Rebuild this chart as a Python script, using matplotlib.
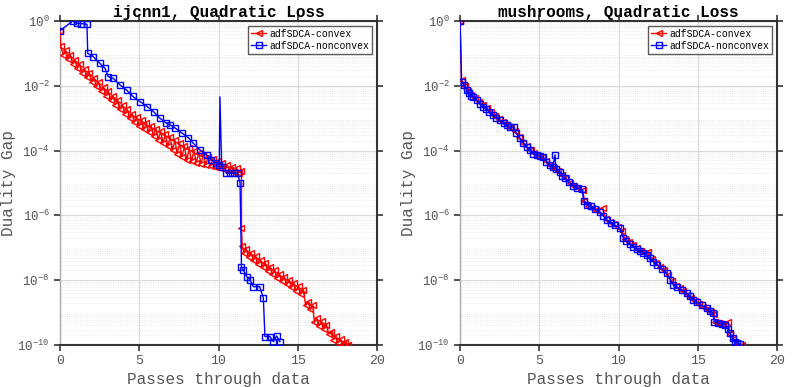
import numpy as np
import matplotlib
matplotlib.use("Agg")
import matplotlib.pyplot as plt
from matplotlib.ticker import FixedLocator, FuncFormatter, NullFormatter

# ---- data (x = passes through data, y = log10 duality gap) ----
ijcnn_convex_x = [0.00, 0.05, 0.20, 0.35, 0.50, 0.65, 0.80, 0.95, 1.10, 1.25, 1.40, 1.55, 1.70,
                  1.85, 2.00, 2.15, 2.30, 2.45, 2.60, 2.75, 2.90, 3.05, 3.20, 3.35, 3.50, 3.65,
                  3.80, 3.95, 4.10, 4.25, 4.40, 4.55, 4.70, 4.85, 5.00, 5.15, 5.30, 5.45, 5.60,
                  5.75, 5.90, 6.05, 6.20, 6.35, 6.50, 6.65, 6.80, 6.95, 7.10, 7.25, 7.40, 7.55,
                  7.70, 7.85, 8.00, 8.15, 8.30, 8.45, 8.60, 8.75, 8.90, 9.05, 9.20, 9.35, 9.50,
                  9.65, 9.80, 9.95, 10.10, 10.25, 10.40, 10.55, 10.70, 10.85, 11.00, 11.15,
                  11.30, 11.45, 11.45, 11.50, 11.60, 11.75, 11.90, 12.05, 12.20, 12.35, 12.50,
                  12.65, 12.80, 12.95, 13.10, 13.25, 13.40, 13.55, 13.70, 13.85, 14.00, 14.15,
                  14.30, 14.45, 14.60, 14.75, 14.90, 15.05, 15.20, 15.35, 15.50, 15.65, 15.80,
                  15.95, 16.05, 16.20, 16.35, 16.50, 16.65, 16.80, 16.95, 17.10, 17.25, 17.40,
                  17.55, 17.70, 17.85, 18.00, 18.20]
ijcnn_convex_y = [-0.30, -0.77, -1.04, -0.91, -1.18, -1.05, -1.32, -1.19, -1.46, -1.33, -1.60,
                  -1.47, -1.74, -1.61, -1.88, -1.75, -2.02, -1.89, -2.16, -2.03, -2.30, -2.17,
                  -2.44, -2.31, -2.58, -2.45, -2.72, -2.59, -2.86, -2.73, -3.00, -2.87, -3.12,
                  -2.96, -3.23, -3.05, -3.34, -3.14, -3.44, -3.23, -3.55, -3.32, -3.66, -3.41,
                  -3.76, -3.50, -3.87, -3.59, -3.98, -3.68, -4.09, -3.77, -4.19, -3.86, -4.30,
                  -3.93, -4.33, -4.00, -4.37, -4.06, -4.40, -4.13, -4.43, -4.19, -4.46, -4.26,
                  -4.50, -4.32, -4.53, -4.39, -4.57, -4.45, -4.61, -4.50, -4.65, -4.55, -4.68,
                  -4.62, -6.40, -6.95, -7.17, -7.04, -7.28, -7.15, -7.39, -7.26, -7.49, -7.37,
                  -7.60, -7.47, -7.71, -7.58, -7.82, -7.69, -7.92, -7.80, -8.03, -7.90, -8.13,
                  -7.99, -8.22, -8.09, -8.32, -8.18, -8.42, -8.30, -8.78, -8.66, -8.90, -8.78,
                  -9.30, -9.17, -9.40, -9.27, -9.50, -9.37, -9.65, -9.59, -9.84, -9.72, -9.93,
                  -9.81, -9.98, -9.90, -10.00]

ijcnn_nonconvex_x = [0.00, 0.80, 1.05, 1.30, 1.70, 1.75, 2.10, 2.50, 2.84, 3.05, 3.36, 3.80,
                     4.20, 4.60, 5.05, 5.50, 5.90, 6.30, 6.70, 6.94, 7.26, 7.70, 8.10, 8.40,
                     8.83, 9.25, 9.55, 9.87, 10.05, 10.09, 10.20, 10.50, 10.75, 11.00, 11.20,
                     11.36, 11.45, 11.57, 11.78, 11.99, 12.20, 12.60, 12.83, 12.93, 13.25,
                     13.46, 13.67, 13.88]
ijcnn_nonconvex_y = [-0.30, 0.00, -0.07, -0.08, -0.10, -1.00, -1.10, -1.30, -1.46, -1.72,
                     -1.77, -1.98, -2.13, -2.33, -2.49, -2.64, -2.80, -3.00, -3.15, -3.20,
                     -3.30, -3.46, -3.60, -3.77, -3.98, -4.13, -4.29, -4.39, -4.45, -2.34,
                     -4.50, -4.70, -4.70, -4.70, -4.70, -4.99, -7.60, -7.69, -7.89, -7.99,
                     -8.20, -8.20, -8.55, -9.74, -9.74, -9.90, -9.72, -9.90]

mush_nonconvex_x = [0.00, 0.10, 0.25, 0.42, 0.55, 0.70, 0.85, 1.05, 1.25, 1.47, 1.65, 1.85,
                    2.10, 2.30, 2.52, 2.75, 2.94, 3.15, 3.40, 3.55, 3.79, 4.00, 4.20, 4.40,
                    4.63, 4.85, 5.05, 5.26, 5.45, 5.68, 5.85, 6.00, 6.05, 6.31, 6.45, 6.60,
                    6.85, 7.15, 7.40, 7.70, 7.80, 8.00, 8.25, 8.50, 8.83, 9.05, 9.25, 9.50,
                    9.75, 10.10, 10.30, 10.50, 10.70, 10.93, 11.15, 11.35, 11.55, 11.78, 12.00,
                    12.20, 12.45, 12.75, 13.04, 13.25, 13.46, 13.70, 14.00, 14.30, 14.50, 14.70,
                    14.95, 15.25, 15.56, 15.80, 15.98, 16.05, 16.30, 16.50, 16.72, 16.90, 17.04,
                    17.20, 17.35, 17.50, 17.67]
mush_nonconvex_y = [0.00, -1.88, -1.97, -2.13, -2.22, -2.30, -2.36, -2.44, -2.55, -2.64, -2.72,
                    -2.80, -2.90, -2.98, -3.06, -3.14, -3.21, -3.28, -3.27, -3.45, -3.62, -3.76,
                    -3.88, -3.98, -4.09, -4.14, -4.17, -4.21, -4.35, -4.44, -4.50, -4.13, -4.58,
                    -4.65, -4.78, -4.85, -4.98, -5.10, -5.15, -5.20, -5.55, -5.68, -5.72, -5.80,
                    -5.89, -6.02, -6.14, -6.22, -6.30, -6.40, -6.70, -6.78, -6.88, -6.97, -7.05,
                    -7.10, -7.15, -7.22, -7.33, -7.43, -7.53, -7.65, -7.79, -7.98, -8.15, -8.22,
                    -8.30, -8.40, -8.50, -8.60, -8.68, -8.78, -8.87, -8.95, -9.02, -9.28, -9.32,
                    -9.35, -9.38, -9.50, -9.64, -9.78, -9.90, -9.95, -9.98]

mush_convex_x = [0.00, 0.10, 0.30, 0.50, 0.70, 0.95, 1.20, 1.45, 1.70, 1.95, 2.20, 2.45, 2.70,
                 2.95, 3.20, 3.45, 3.70, 3.95, 4.20, 4.45, 4.70, 4.95, 5.20, 5.45, 5.70, 5.95,
                 6.20, 6.45, 6.70, 6.95, 7.20, 7.45, 7.75, 7.85, 8.10, 8.35, 8.60, 9.00, 9.20,
                 9.45, 9.70, 9.95, 10.20, 10.40, 10.65, 10.90, 11.15, 11.40, 11.65, 11.87, 12.10,
                 12.35, 12.60, 12.85, 13.10, 13.35, 13.60, 13.85, 14.10, 14.35, 14.60, 14.85,
                 15.10, 15.35, 15.60, 15.85, 16.00, 16.10, 16.35, 16.60, 16.90, 17.05, 17.25,
                 17.45, 17.77]
mush_convex_y = [0.00, -1.82, -2.00, -2.15, -2.27, -2.38, -2.50, -2.60, -2.70, -2.80, -2.92,
                 -3.02, -3.12, -3.20, -3.30, -3.40, -3.57, -3.75, -3.87, -3.97, -4.08, -4.16,
                 -4.20, -4.33, -4.44, -4.54, -4.64, -4.76, -4.86, -5.00, -5.10, -5.16, -5.22,
                 -5.55, -5.70, -5.76, -5.82, -5.78, -6.12, -6.20, -6.28, -6.36, -6.48, -6.72,
                 -6.82, -6.92, -7.02, -7.09, -7.15, -7.12, -7.36, -7.46, -7.58, -7.70, -7.84,
                 -8.02, -8.18, -8.25, -8.33, -8.45, -8.55, -8.64, -8.72, -8.82, -8.90, -8.98,
                 -9.05, -9.28, -9.33, -9.36, -9.28, -9.66, -9.82, -9.93, -10.00]

panels = [
    ("ijcnn1, Quadratic Loss", ijcnn_convex_x, ijcnn_convex_y, ijcnn_nonconvex_x, ijcnn_nonconvex_y),
    ("mushrooms, Quadratic Loss", mush_convex_x, mush_convex_y, mush_nonconvex_x, mush_nonconvex_y),
]
xticks = [0, 5, 10, 15, 20]
yticks_exp = [0, -2, -4, -6, -8, -10]

plt.rcParams["font.family"] = ["Liberation Mono", "DejaVu Sans"]
plt.rcParams["mathtext.fontset"] = "custom"
plt.rcParams["mathtext.rm"] = "Liberation Mono"
plt.rcParams["mathtext.it"] = "Liberation Mono"

text_gray = "#555555"
edge = "#333333"

fig = plt.figure(figsize=(7.93, 3.87), dpi=100)
lefts = [60 / 793, 460 / 793]

for left, (title, cx, cy, nx, ny) in zip(lefts, panels):
    ax = fig.add_axes([left, 42 / 387, 317 / 793, 324 / 387])
    # no marker on the tip of a one-sample spike (jumps up > 1 decade, then back)
    marks = [i for i in range(len(nx))
             if not (0 < i < len(nx) - 1 and ny[i] - ny[i - 1] > 1 and ny[i] - ny[i + 1] > 1)]
    ax.plot(cx, np.power(10.0, cy), color="red", lw=1.0, marker="<", ms=5,
            mfc="none", mew=1.0, label="adfSDCA-convex", zorder=3)
    ax.plot(nx, np.power(10.0, ny), color="blue", lw=1.0, marker="s", ms=4.5,
            mfc="none", mew=1.0, markevery=marks, label="adfSDCA-nonconvex", zorder=4)
    ax.set_yscale("log")
    ax.set_xlim(0, 20)
    ax.set_ylim(1e-10, 1e0)
    ax.set_xticks(xticks)
    ax.yaxis.set_major_locator(FixedLocator([10.0 ** e for e in yticks_exp]))
    ax.yaxis.set_major_formatter(FuncFormatter(
        lambda v, p: r"$\mathregular{10^{%d}}$" % round(np.log10(v))))
    ax.yaxis.set_minor_locator(FixedLocator(
        [m * 10.0 ** e for e in range(-10, 0) for m in range(2, 10)]))
    ax.yaxis.set_minor_formatter(NullFormatter())

    ax.grid(True, which="major", color="#d9d9d9", lw=0.8)
    ax.grid(True, which="minor", axis="y", color="#e3e3e3", lw=0.6, ls=":")
    ax.set_axisbelow(True)

    ax.tick_params(which="major", direction="out", length=4, width=1.2, color=edge,
                   labelcolor=text_gray, top=True, right=True)
    ax.tick_params(axis="x", labelsize=9.5)
    ax.tick_params(axis="y", labelsize=9)
    ax.tick_params(which="minor", length=0)
    for side in ["top", "right", "bottom"]:
        ax.spines[side].set_color(edge)
        ax.spines[side].set_linewidth(1.5)
    ax.spines["left"].set_color("#aaaaaa")
    ax.spines["left"].set_linewidth(1.0)

    ax.set_title(title, fontsize=11.5, fontweight="bold", pad=3)
    ax.set_xlabel("Passes through data", fontsize=11.5, color=text_gray, labelpad=3)
    ax.set_ylabel("Duality Gap", fontsize=11.5, color=text_gray, labelpad=1)

    leg = ax.legend(loc="upper right", fontsize=7, frameon=True, fancybox=False,
                    borderpad=0.3, handlelength=1.6, handletextpad=0.3,
                    labelspacing=0.2, borderaxespad=0.5)
    leg.get_frame().set_edgecolor(edge)
    leg.get_frame().set_linewidth(1.0)

fig.savefig("out.png", dpi=100)
